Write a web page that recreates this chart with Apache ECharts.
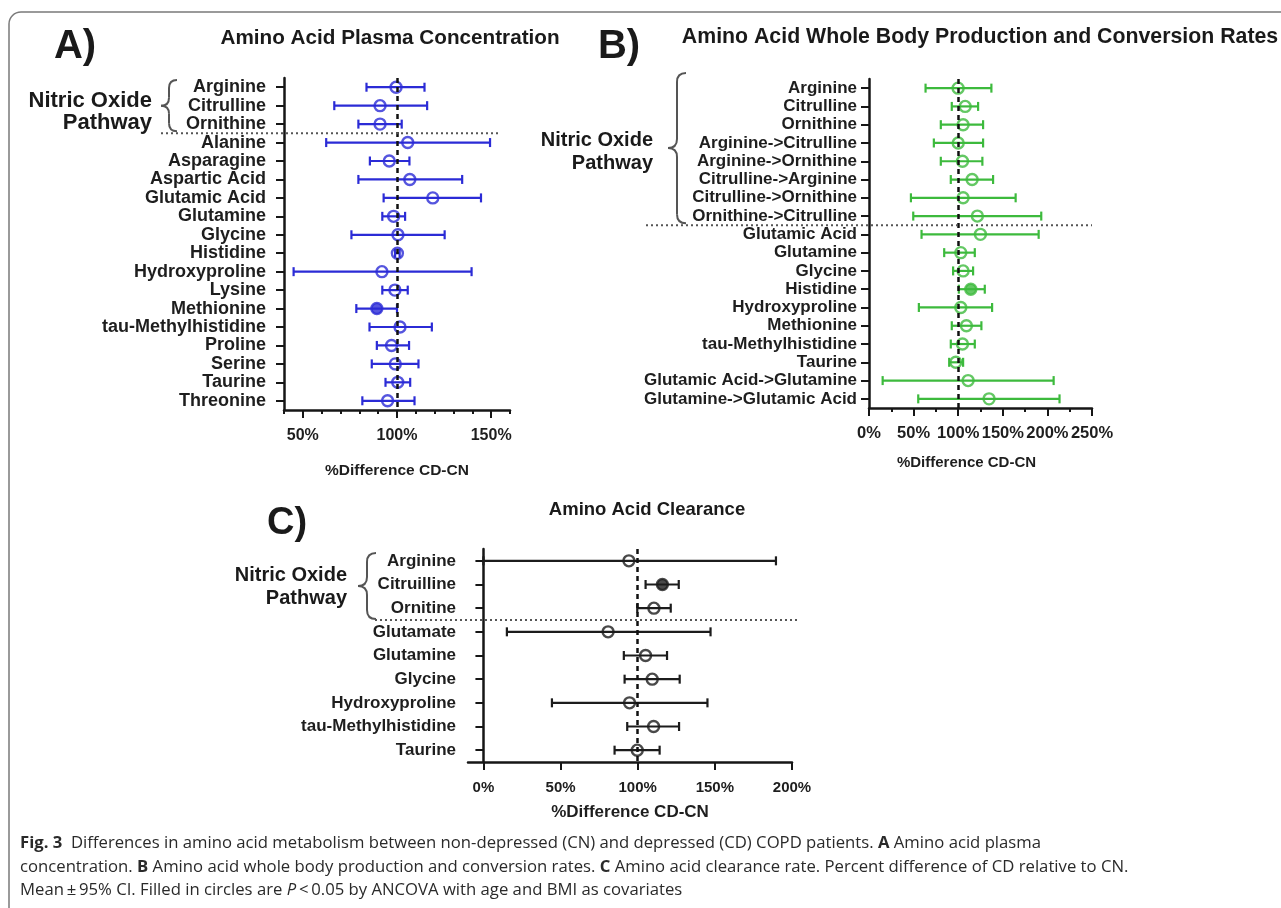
<!DOCTYPE html>
<html>
<head>
<meta charset="utf-8">
<script src="https://cdn.jsdelivr.net/npm/echarts@6/dist/echarts.min.js"></script>
<style>html,body{margin:0;padding:0;background:#fff}#c{width:1281px;height:908px}</style>
</head>
<body>
<div id="c"></div>
<script>
// ---------- Panel A: Amino Acid Plasma Concentration ----------
const catsA = ['Arginine','Citrulline','Ornithine','Alanine','Asparagine','Aspartic Acid','Glutamic Acid','Glutamine','Glycine','Histidine','Hydroxyproline','Lysine','Methionine','tau-Methylhistidine','Proline','Serine','Taurine','Threonine'];
const meanA = [99.5, 91, 91, 105.7, 95.9, 106.8, 119, 98.2, 100.5, 100.2, 92, 98.9, 89.3, 101.6, 97.1, 99.1, 100.4, 95];
const lowA  = [83.8, 66.7, 79.5, 62.4, 85.6, 79.5, 92.9, 92.2, 75.8, 99, 45.1, 92.2, 78.4, 85.4, 89.3, 86.6, 93.9, 81.6];
const highA = [114.6, 116, 102.5, 149.4, 106.6, 134.6, 144.6, 104.3, 125.3, 101.4, 139.6, 105.7, 100, 118.5, 106.4, 111.4, 107, 109.3];
const sigA  = [0,0,0,0,0,0,0,0,0,0,0,0,1,0,0,0,0,0];
const ticksA = [50, 100, 150];

// ---------- Panel B: Whole Body Production and Conversion Rates ----------
const catsB = ['Arginine','Citrulline','Ornithine','Arginine->Citrulline','Arginine->Ornithine','Citrulline->Arginine','Citrulline->Ornithine','Ornithine->Citrulline','Glutamic Acid','Glutamine','Glycine','Histidine','Hydroxyproline','Methionine','tau-Methylhistidine','Taurine','Glutamic Acid->Glutamine','Glutamine->Glutamic Acid'];
const meanB = [99.9, 107.8, 105.5, 100, 104.8, 115.6, 105.5, 121.5, 124.9, 102.9, 105.5, 114.1, 102.9, 109.2, 104.8, 97.3, 111.1, 134.6];
const lowB  = [63.4, 92.8, 80.5, 72.7, 80.5, 91.7, 47, 49.6, 58.9, 84.3, 94.3, 100.7, 55.9, 92.8, 91.7, 89.9, 15.3, 55.2];
const highB = [137.2, 122.3, 127.9, 127.9, 127.1, 139.1, 164.4, 193.1, 190.2, 118.6, 116.7, 129.8, 138, 126, 118.6, 105.5, 207, 213.6];
const sigB  = [0,0,0,0,0,0,0,0,0,0,0,1,0,0,0,0,0,0];

// ---------- Panel C: Amino Acid Clearance ----------
const catsC = ['Arginine','Citruilline','Ornitine','Glutamate','Glutamine','Glycine','Hydroxyproline','tau-Methylhistidine','Taurine'];
const meanC = [94.3, 116, 110.5, 80.8, 105.1, 109.4, 94.7, 110.3, 99.7];
const lowC  = [0, 105.1, 99.7, 15.2, 91, 91.5, 44.4, 93.2, 85];
const highC = [189.6, 126.6, 121.4, 147.2, 119, 127.2, 145.2, 126.8, 114.2];
const sigC  = [0,1,0,0,0,0,0,0,0];
const ticksC = [0, 50, 100, 150, 200];

const FONT = '"Liberation Sans", Arial, Helvetica, sans-serif';
const AXC = '#161616';
const colA = '#2b2bd6', colB = '#3dba3d', colC = '#1c1c1c';

function barData(low, high) {
  return low.map((l, i) => [l, i, high[i]]);
}
function pointData(mean, sig, color) {
  return mean.map((m, i) => ({
    value: [m, i],
    itemStyle: { color: sig[i] ? color : 'rgba(255,255,255,0)', borderColor: color, borderWidth: 2.4 }
  }));
}

function makeRender(color) {
  return function (params, api) {
    const yi = api.value(1);
    const lo = api.coord([api.value(0), yi]);
    const hi = api.coord([api.value(2), yi]);
    const cap = 4.5;
    const ls = { stroke: color, lineWidth: 2.2 };
    return {
      type: 'group',
      children: [
        { type: 'line', shape: { x1: lo[0], y1: lo[1], x2: hi[0], y2: hi[1] }, style: ls },
        { type: 'line', shape: { x1: lo[0], y1: lo[1] - cap, x2: lo[0], y2: lo[1] + cap }, style: ls },
        { type: 'line', shape: { x1: hi[0], y1: hi[1] - cap, x2: hi[0], y2: hi[1] + cap }, style: ls }
      ]
    };
  };
}

function yAxisCfg(gi, cats, margin, fs) {
  return {
    type: 'category', gridIndex: gi, data: cats, inverse: true,
    axisLine: { show: true, lineStyle: { color: AXC, width: 2.5 } },
    axisTick: { show: true, alignWithLabel: true, length: 8, lineStyle: { color: AXC, width: 2 } },
    axisLabel: { interval: 0, fontFamily: FONT, fontWeight: 'bold', fontSize: fs, color: '#1e1e1e', margin: margin },
    splitLine: { show: false }
  };
}

function dashLine() {
  return {
    silent: true, symbol: 'none', animation: false,
    label: { show: false },
    lineStyle: { type: [5, 4], color: '#111', width: 2.5 },
    data: [{ xAxis: 100 }]
  };
}

function seriesPair(xi, yi, low, high, mean, sig, color) {
  return [
    { type: 'custom', xAxisIndex: xi, yAxisIndex: yi, renderItem: makeRender(color),
      encode: { x: 0, y: 1 }, data: barData(low, high), z: 3 },
    { type: 'scatter', xAxisIndex: xi, yAxisIndex: yi, symbol: 'circle', symbolSize: 11,
      data: pointData(mean, sig, color), markLine: dashLine(), z: 4 }
  ];
}

const option = {
  animation: false,
  backgroundColor: '#fff',
  grid: [
    { left: 284, top: 78, width: 226, height: 332 },
    { left: 869, top: 79, width: 223, height: 329 },
    { left: 468, top: 549, width: 324, height: 213 }
  ],
  xAxis: [
    { // A minor ticks + axis line
      type: 'value', gridIndex: 0, min: 40, max: 160, interval: 10,
      axisLine: { show: true, lineStyle: { color: AXC, width: 2.5 } },
      axisTick: { show: true, length: 4, lineStyle: { color: AXC, width: 2 } },
      axisLabel: { show: false }, splitLine: { show: false }
    },
    { // A major ticks + labels
      type: 'value', gridIndex: 0, min: 40, max: 160, position: 'bottom',
      axisLine: { show: false },
      axisTick: { show: true, length: 8, customValues: ticksA, lineStyle: { color: AXC, width: 2 } },
      axisLabel: { customValues: ticksA, formatter: '{value}%', fontFamily: FONT, fontWeight: 'bold', fontSize: 16, color: '#1e1e1e', margin: 18 },
      splitLine: { show: false },
      name: '%Difference CD-CN', nameLocation: 'middle', nameGap: 53,
      nameTextStyle: { fontFamily: FONT, fontWeight: 'bold', fontSize: 15.5, color: '#1e1e1e' }
    },
    { // B
      type: 'value', gridIndex: 1, min: 0, max: 250, interval: 50,
      axisLine: { show: true, lineStyle: { color: AXC, width: 2.5 } },
      axisTick: { show: true, length: 8, lineStyle: { color: AXC, width: 2 } },
      minorTick: { show: true, splitNumber: 2, length: 4, lineStyle: { color: AXC, width: 2 } },
      axisLabel: { formatter: '{value}%', fontFamily: FONT, fontWeight: 'bold', fontSize: 16.5, color: '#1e1e1e', margin: 17 },
      splitLine: { show: false },
      name: '%Difference CD-CN', nameLocation: 'middle', nameGap: 47,
      nameTextStyle: { fontFamily: FONT, fontWeight: 'bold', fontSize: 15, color: '#1e1e1e', padding: [0, 28, 0, 0] }
    },
    { // C
      type: 'value', gridIndex: 2, min: -10, max: 200,
      axisLine: { show: true, lineStyle: { color: AXC, width: 2.5 } },
      axisTick: { show: true, length: 8, customValues: ticksC, lineStyle: { color: AXC, width: 2 } },
      axisLabel: { customValues: ticksC, formatter: '{value}%', fontFamily: FONT, fontWeight: 'bold', fontSize: 15, color: '#1e1e1e', margin: 18 },
      splitLine: { show: false },
      name: '%Difference CD-CN', nameLocation: 'middle', nameGap: 42,
      nameTextStyle: { fontFamily: FONT, fontWeight: 'bold', fontSize: 17, color: '#1e1e1e' }
    }
  ],
  yAxis: [
    yAxisCfg(0, catsA, 18, 18),
    yAxisCfg(1, catsB, 12, 17),
    yAxisCfg(2, catsC, 12, 17)
  ],
  series: [].concat(
    seriesPair(0, 0, lowA, highA, meanA, sigA, colA),
    seriesPair(2, 1, lowB, highB, meanB, sigB, colB),
    seriesPair(3, 2, lowC, highC, meanC, sigC, colC)
  )
};

const chart = echarts.init(document.getElementById('c'), null, { renderer: 'canvas' });
chart.setOption(option);

// ---------- annotations ----------
function sepY(axisIdx, cats, a, b, fallback) {
  try {
    const y1 = chart.convertToPixel({ yAxisIndex: axisIdx }, cats[a]);
    const y2 = chart.convertToPixel({ yAxisIndex: axisIdx }, cats[b]);
    const v = (y1 + y2) / 2;
    return isFinite(v) ? v : fallback;
  } catch (e) { return fallback; }
}
const BR = { stroke: '#555', lineWidth: 2, fill: 'none' };
function brace(x, y1, y2, w) {
  const xm = x + w * 0.5, ym = (y1 + y2) / 2, r = w * 0.5;
  return {
    type: 'group', z: 5,
    children: [
      { type: 'bezierCurve', shape: { x1: x + w, y1: y1, x2: xm, y2: y1 + r, cpx1: xm, cpy1: y1 }, style: BR },
      { type: 'line', shape: { x1: xm, y1: y1 + r, x2: xm, y2: ym - r }, style: BR },
      { type: 'bezierCurve', shape: { x1: xm, y1: ym - r, x2: x, y2: ym, cpx1: xm, cpy1: ym }, style: BR },
      { type: 'bezierCurve', shape: { x1: x, y1: ym, x2: xm, y2: ym + r, cpx1: xm, cpy1: ym }, style: BR },
      { type: 'line', shape: { x1: xm, y1: ym + r, x2: xm, y2: y2 - r }, style: BR },
      { type: 'bezierCurve', shape: { x1: xm, y1: y2 - r, x2: x + w, y2: y2, cpx1: xm, cpy1: y2 }, style: BR }
    ]
  };
}
function txt(text, x, y, size, align) {
  return { type: 'text', x: x, y: y, z: 10,
    style: { text: text, fill: '#1a1a1a', fontFamily: FONT, fontWeight: 'bold', fontSize: size,
             align: align || 'center', verticalAlign: 'middle' } };
}
function dotted(x1, x2, y) {
  return { type: 'line', z: 5, shape: { x1: x1, y1: y, x2: x2, y2: y },
           style: { stroke: '#555', lineWidth: 2, lineDash: [2, 3] } };
}

const sA = sepY(0, catsA, 2, 3, 133), sB = sepY(1, catsB, 7, 8, 224), sC = sepY(2, catsC, 2, 3, 618);
const capFont = '"Open Sans", "Noto Sans", sans-serif';
const CAPS = 16.7;

chart.setOption({
  graphic: [
    { type: 'rect', z: 0, shape: { x: 9, y: 12, width: 1320, height: 960, r: 12 },
      style: { fill: 'none', stroke: '#7a7a7a', lineWidth: 1.5 } },
    txt('A)', 75, 47, 40),
    txt('B)', 619, 47, 40),
    txt('C)', 287, 524, 38),
    txt('Amino Acid Plasma Concentration', 390, 38, 20.7),
    txt('Amino Acid Whole Body Production and Conversion Rates', 980, 37, 21.3),
    txt('Amino Acid Clearance', 647, 510, 18.5),
    txt('Nitric Oxide', 152, 101, 22, 'right'),
    txt('Pathway', 152, 123, 22, 'right'),
    txt('Nitric Oxide', 653, 140, 20, 'right'),
    txt('Pathway', 653, 163, 20, 'right'),
    txt('Nitric Oxide', 347, 575, 20, 'right'),
    txt('Pathway', 347, 598, 20, 'right'),
    brace(161, 80, sA - 2, 16),
    brace(668, 73, sB - 2, 18),
    brace(358, 553, sC - 1, 18),
    dotted(161, 500, sA),
    dotted(646, 1092, sB),
    dotted(375, 797, sC),
    { type: 'text', x: 20, y: 843, z: 10,
      style: { text: '{b|Fig. 3}  Differences in amino acid metabolism between non-depressed (CN) and depressed (CD) COPD patients. {b|A} Amino acid plasma',
        fill: '#2a2a2a', fontFamily: capFont, fontSize: CAPS, verticalAlign: 'middle',
        rich: { b: { fontWeight: 'bold', fontFamily: capFont, fontSize: CAPS, fill: '#2a2a2a' } } } },
    { type: 'text', x: 20, y: 867, z: 10,
      style: { text: 'concentration. {b|B} Amino acid whole body production and conversion rates. {b|C} Amino acid clearance rate. Percent difference of CD relative to CN.',
        fill: '#2a2a2a', fontFamily: capFont, fontSize: CAPS, verticalAlign: 'middle',
        rich: { b: { fontWeight: 'bold', fontFamily: capFont, fontSize: CAPS, fill: '#2a2a2a' } } } },
    { type: 'text', x: 20, y: 890, z: 10,
      style: { text: 'Mean\u2009\u00b1\u200995% CI. Filled in circles are {i|P}\u2009<\u20090.05 by ANCOVA with age and BMI as covariates',
        fill: '#2a2a2a', fontFamily: capFont, fontSize: CAPS, verticalAlign: 'middle',
        rich: { i: { fontStyle: 'italic', fontFamily: capFont, fontSize: CAPS, fill: '#2a2a2a' } } } }
  ]
});
</script>
</body>
</html>
